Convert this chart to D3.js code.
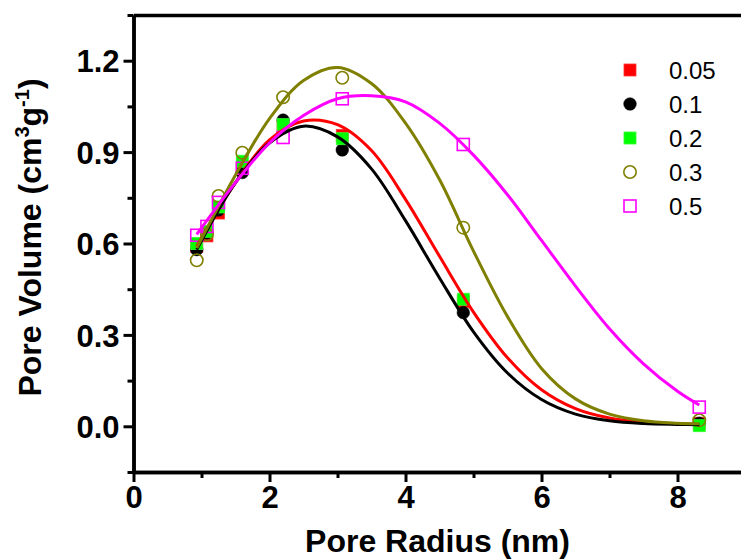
<!DOCTYPE html>
<html>
<head>
<meta charset="utf-8">
<script src="https://cdn.jsdelivr.net/npm/d3@7"></script>
<style>
  body { margin: 0; background: #fff; }
  svg { display: block; font-family: "Liberation Sans", Arial, sans-serif; }
</style>
</head>
<body>
<div id="chart"></div>
<script>
// measured points, pore radius (nm) / pore volume
let pointX = [0.93, 1.08, 1.25, 1.6, 2.2, 3.07, 4.85, 8.32];
let red005 = [0.59, 0.625, 0.70, 0.85, 0.985, 0.955, 0.41, 0.01];
let black01 = [0.58, 0.635, 0.71, 0.833, 1.005, 0.907, 0.373, 0.01];
let green02 = [0.60, 0.64, 0.72, 0.87, 0.99, 0.944, 0.417, 0.002];
let olive03 = [0.545, 0.63, 0.756, 0.898, 1.08, 1.144, 0.652, 0.02];
let magenta05 = [0.627, 0.656, 0.735, 0.847, 0.948, 1.075, 0.925, 0.063];

// fitted curves
let fitX = [0.93, 1.5, 2, 2.5, 3, 3.5, 4, 4.5, 5, 5.5, 6, 6.5, 7, 7.5, 8, 8.32];
let fitRed = [0.59, 0.80, 0.94, 1.002, 0.99, 0.905, 0.745, 0.558, 0.375, 0.225, 0.12, 0.058, 0.027, 0.013, 0.008, 0.006];
let fitBlack = [0.58, 0.80, 0.93, 0.985, 0.95, 0.845, 0.675, 0.487, 0.31, 0.175, 0.088, 0.04, 0.018, 0.009, 0.006, 0.005];
let fitOlive = [0.585, 0.825, 1.01, 1.135, 1.178, 1.125, 0.995, 0.81, 0.575, 0.36, 0.19, 0.09, 0.04, 0.018, 0.01, 0.008];
let fitMagenta = [0.63, 0.80, 0.93, 1.02, 1.075, 1.085, 1.065, 0.995, 0.89, 0.76, 0.61, 0.46, 0.32, 0.205, 0.115, 0.07];

let legendLabels = ["0.05", "0.1", "0.2", "0.3", "0.5"];
let xMajor = [0, 2, 4, 6, 8];
let xMinor = [1, 3, 5, 7];
let yMajor = [0, 0.3, 0.6, 0.9, 1.2];
let yMinor = [-0.15, 0.15, 0.45, 0.75, 1.05, 1.35];

let width = 741;
let height = 560;
let plot = { left: 133.5, right: 745.5, top: 15, bottom: 472 };

let svg = d3.select("#chart").append("svg")
    .attr("width", width)
    .attr("height", height);

let x = d3.scaleLinear().domain([0, 9]).range([plot.left, plot.right]);
let y = d3.scaleLinear().domain([-0.15, 1.35]).range([plot.bottom, plot.top]);

let series = [
    { label: legendLabels[0], values: red005, fit: fitRed, shape: "square", fill: "#ff0000", stroke: "#ff3333", color: "#ff0000" },
    { label: legendLabels[1], values: black01, fit: fitBlack, shape: "circle", fill: "#000000", stroke: "#000000", color: "#000000" },
    { label: legendLabels[2], values: green02, fit: null, shape: "square", fill: "#00ff00", stroke: "#33ff33", color: "#00ff00" },
    { label: legendLabels[3], values: olive03, fit: fitOlive, shape: "circle", fill: "none", stroke: "#808000", color: "#808000" },
    { label: legendLabels[4], values: magenta05, fit: fitMagenta, shape: "square", fill: "none", stroke: "#ff00ff", color: "#ff00ff" }
];

//画数据点
function drawMarker (g, s, cx, cy) {
    if (s.shape === "square") {
        g.append("rect")
            .attr("x", cx - 6).attr("y", cy - 6)
            .attr("width", 12).attr("height", 12)
            .attr("fill", s.fill === "none" ? "none" : s.fill)
            .attr("stroke", s.stroke)
            .attr("stroke-width", s.fill === "none" ? 1.6 : 0.8);
    } else {
        g.append("circle")
            .attr("cx", cx).attr("cy", cy)
            .attr("r", s.fill === "none" ? 6.2 : 6.3)
            .attr("fill", s.fill)
            .attr("stroke", s.stroke)
            .attr("stroke-width", s.fill === "none" ? 1.6 : 0.5);
    }
}

let gPlot = svg.append("g");
gPlot.append("clipPath").attr("id", "clip")
    .append("rect")
    .attr("x", plot.left).attr("y", plot.top)
    .attr("width", plot.right - plot.left).attr("height", plot.bottom - plot.top);
let gData = gPlot.append("g").attr("clip-path", "url(#clip)");

series.forEach(s => {
    let g = gData.append("g");
    s.values.forEach((v, i) => drawMarker(g, s, x(pointX[i]), y(v)));
});

let line = d3.line()
    .x(d => x(d[0]))
    .y(d => y(d[1]))
    .curve(d3.curveCatmullRom.alpha(0.5));

series.filter(s => s.fit).forEach(s => {
    gData.append("path")
        .datum(fitX.map((v, i) => [v, s.fit[i]]))
        .attr("d", line)
        .attr("fill", "none")
        .attr("stroke", s.color)
        .attr("stroke-width", 3);
});

//坐标轴
function styleAxis (g) {
    g.select(".domain").attr("stroke", "#000").attr("stroke-width", 3.5);
    g.selectAll(".tick line").attr("stroke", "#000").attr("stroke-width", 3);
    g.selectAll(".tick text")
        .attr("fill", "#000")
        .attr("font-size", "31px")
        .attr("font-weight", "bold")
        .attr("font-family", "'Liberation Sans', Arial, sans-serif");
}

let gx = svg.append("g").attr("transform", `translate(0, ${plot.bottom})`);
gx.call(d3.axisBottom(x).tickValues(xMajor).tickSize(10).tickSizeOuter(0).tickPadding(4).tickFormat(d3.format("d")));
styleAxis(gx);
let gxMinor = svg.append("g").attr("transform", `translate(0, ${plot.bottom})`);
gxMinor.call(d3.axisBottom(x).tickValues(xMinor).tickSize(6).tickSizeOuter(0).tickFormat(""));
styleAxis(gxMinor);

let gy = svg.append("g").attr("transform", `translate(${plot.left}, 0)`);
gy.call(d3.axisLeft(y).tickValues(yMajor).tickSize(10).tickSizeOuter(0).tickPadding(4).tickFormat(d3.format(".1f")));
styleAxis(gy);
gy.selectAll(".tick text").attr("dy", "0.36em");
let gyMinor = svg.append("g").attr("transform", `translate(${plot.left}, 0)`);
gyMinor.call(d3.axisLeft(y).tickValues(yMinor).tickSize(6).tickSizeOuter(0).tickFormat(""));
styleAxis(gyMinor);

let gTop = svg.append("g").attr("transform", `translate(0, ${plot.top})`);
gTop.call(d3.axisTop(x).tickValues([]).tickSizeOuter(0));
styleAxis(gTop);

//坐标轴标题
svg.append("text")
    .attr("x", (plot.left + plot.right) / 2 - 2)
    .attr("y", 552)
    .attr("text-anchor", "middle")
    .attr("font-size", "32px")
    .attr("font-weight", "bold")
    .text("Pore Radius (nm)");

let yTitle = svg.append("text")
    .attr("transform", `translate(41, ${(plot.top + plot.bottom) / 2 - 6}) rotate(-90)`)
    .attr("text-anchor", "middle")
    .attr("font-size", "32px")
    .attr("font-weight", "bold");
yTitle.append("tspan").text("Pore Volume (cm");
yTitle.append("tspan").attr("font-size", "20px").attr("dy", "-12").text("3");
yTitle.append("tspan").attr("dy", "12").text("g");
yTitle.append("tspan").attr("font-size", "20px").attr("dy", "-12").text("-1");
yTitle.append("tspan").attr("dy", "12").text(")");

//图例
let legend = svg.append("g");
series.forEach((s, i) => {
    let ly = 70 + i * 34;
    drawMarker(legend, s, 630, ly);
    legend.append("text")
        .attr("x", 669)
        .attr("y", ly)
        .attr("dy", "0.36em")
        .attr("font-size", "24px")
        .text(s.label);
});
</script>
</body>
</html>
